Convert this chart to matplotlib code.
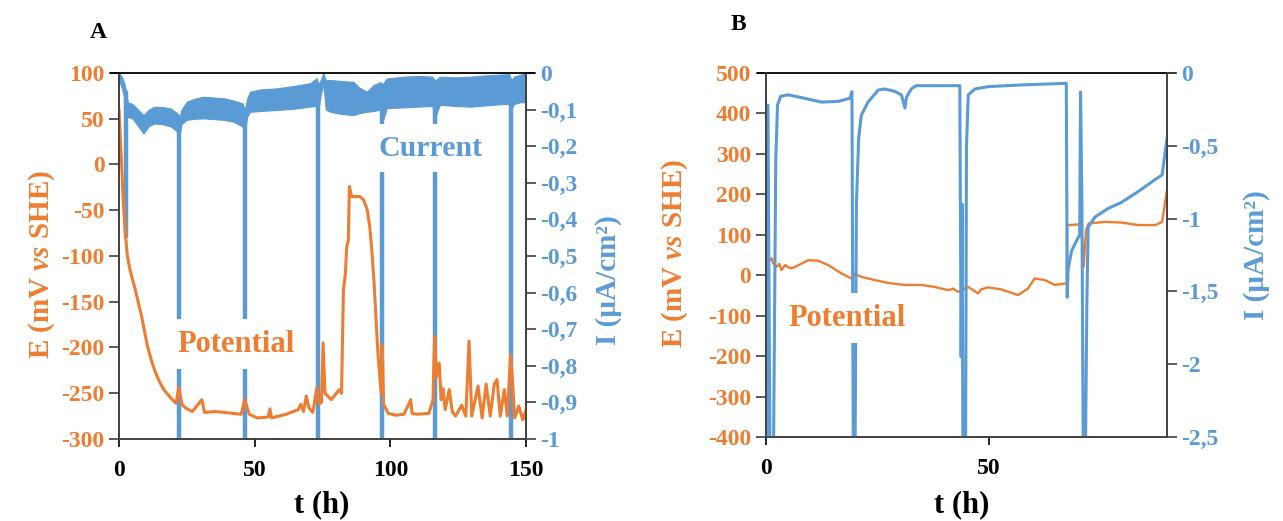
import matplotlib
matplotlib.use("Agg")
import matplotlib.pyplot as plt
from matplotlib.ticker import FuncFormatter, MultipleLocator

plt.rcParams['font.family'] = ['Liberation Serif', 'DejaVu Serif']
plt.rcParams['font.weight'] = 'bold'
plt.rcParams['axes.unicode_minus'] = False
plt.rcParams['mathtext.fontset'] = 'custom'
plt.rcParams['mathtext.rm'] = 'Liberation Serif:bold'
plt.rcParams['mathtext.it'] = 'Liberation Serif:bold:italic'

ORANGE = '#ED7D31'
BLUE = '#5B9BD5'

# ---------------- panel A : potential (mV) ----------------
a_pot_t = [0, 0.3, 0.7, 1, 1.5, 2.3, 3.0, 3.8, 5, 6, 8.3, 10.5, 12, 13.5, 15, 16.5, 19, 21, 22,
           23.3, 25, 27, 30.5, 31.5, 35, 39, 42, 45, 46.3, 48, 51, 55, 55.6, 56.2, 61.6, 66,
           67, 68, 69, 70, 71.4, 72.9, 73.6, 74.6, 75.2, 75.9, 78.2, 81.2, 82, 82.7, 83.4,
           83.9, 84.5, 84.9, 85.7, 88.7, 90.2, 91.5, 92.4, 93.2, 94, 95.4, 96.6, 97, 97.5,
           99.2, 102, 105, 107.5, 108, 109.7, 114.2, 115.7, 116.3, 117, 118, 118.7, 119.4,
           120.2, 121.7, 122.8, 124, 126.3, 127.8, 129, 130, 132.3, 133.8, 135.3, 136.8, 138.3,
           139.3, 140.5, 142, 143.1, 144.3, 145, 145.8, 147.3, 148.8, 150]
a_pot_v = [59, 40, 15, -3, -39, -75, -98, -112, -126, -137, -166, -199, -215, -228, -238, -246,
           -255, -261, -244, -263, -267, -270, -257, -271, -270, -271, -272, -273, -257, -273,
           -277, -276, -267, -277, -273, -268, -262, -270, -253, -266, -271, -244, -262, -260,
           -195, -250, -257, -246, -250, -137, -120, -90, -83, -24, -35, -35, -39, -50, -68,
           -95, -130, -206, -250, -197, -262, -272, -274, -273, -257, -272, -273, -272, -257,
           -188, -232, -217, -257, -245, -268, -246, -270, -275, -263, -275, -193, -275, -242,
           -277, -240, -275, -240, -235, -275, -246, -275, -208, -235, -277, -264, -279, -268]

# ---------------- panel A : current band (uA/cm2) ----------------
a_band_t = [0, 1, 2, 2.6, 3.2, 5, 7, 9, 11, 13, 16, 19, 21.5, 22.3, 23, 25, 28, 31, 35, 38.5,
            42, 45.5, 46.4, 47.2, 48.3, 52, 58, 64, 70.4, 72.8, 73.5, 74.3, 75.3, 76.2, 77.8,
            82, 86.4, 88.5, 91.3, 93.8, 96.2, 97.2, 98.7, 105, 110, 115.5, 116.3, 117.5, 118.3,
            124, 129.4, 136, 141, 143.8, 144.6, 145.5, 147.8, 150]
a_band_hi = [0, -0.01, -0.03, -0.05, -0.08, -0.085, -0.1, -0.115, -0.1, -0.092, -0.093, -0.097,
             -0.11, -0.12, -0.1, -0.078, -0.07, -0.065, -0.067, -0.069, -0.075, -0.083, -0.1,
             -0.07, -0.051, -0.045, -0.042, -0.036, -0.028, -0.014, -0.03, -0.02, 0.0, -0.02,
             -0.019, -0.022, -0.024, -0.04, -0.051, -0.033, -0.025, -0.03, -0.015, -0.01,
             -0.008, -0.01, -0.02, -0.015, -0.01, -0.012, -0.01, -0.006, -0.004, -0.003,
             -0.02, -0.01, -0.005, 0.0]
a_band_lo = [-0.02, -0.04, -0.07, -0.1, -0.12, -0.125, -0.145, -0.165, -0.145, -0.138, -0.14,
             -0.146, -0.16, -0.17, -0.14, -0.128, -0.125, -0.124, -0.126, -0.128, -0.133,
             -0.146, -0.16, -0.12, -0.106, -0.104, -0.101, -0.098, -0.092, -0.09, -0.1, -0.06,
             -0.03, -0.1, -0.106, -0.112, -0.115, -0.11, -0.106, -0.104, -0.1, -0.13, -0.096,
             -0.094, -0.092, -0.09, -0.128, -0.1, -0.087, -0.09, -0.092, -0.088, -0.085,
             -0.085, -0.1, -0.085, -0.08, -0.08]
a_spike_t = [2.6, 22.1, 46.3, 73.3, 97.0, 116.5, 144.3]
a_spike_top = [-0.05, -0.12, -0.1, -0.03, -0.03, -0.02, -0.02]
a_spike_bot = [-0.45, -1.05, -1.05, -1.05, -1.05, -1.05, -1.05]

# ---------------- panel B : potential (mV) ----------------
b_pot_t = [0.3, 1.27, 1.64, 2.4, 3.0, 3.5, 4.3, 5.0, 5.8, 7.3, 9.5, 11.7, 14.0, 17.0, 19.2, 19.9,
           21.4, 24.4, 27.4, 31.1, 34.9, 37.9, 40.9, 42.0, 43.1, 45.4, 47.6, 48.3, 49.8, 52.8,
           56.6, 58.8, 60.3, 62.6, 64.8, 67.5, 67.6, 67.9, 70.6, 71.0, 71.3, 71.8, 72.4, 76.2,
           79.9, 83.6, 87.4, 88.9, 90.0]
b_pot_v = [30, 42, 29, 21, 28, 13, 25, 20, 17, 25, 37, 36, 25, 4, -8, 4,
           -4, -12, -19, -24, -24, -29, -37, -33, -41, -29, -45, -35, -30, -35,
           -49, -33, -8, -12, -24, -20, 124, 124, 126, 80, 21, 110, 128, 132,
           130, 124, 124, 132, 211]

# ---------------- panel B : current (uA/cm2) ----------------
b_cur_t = [0, 0.15, 0.45, 0.9, 1.7, 2.2, 2.6, 3.3, 5, 8.7, 12.5, 16.2, 18.8, 19.3, 19.6, 20.0,
           20.3, 20.8, 21.4, 22.9, 25.2, 26.7, 28.9, 30.4, 31.2, 31.5, 32.6, 33.7, 43.5, 43.8,
           44.0, 44.2, 44.8, 45.0, 45.4, 46.9, 49.8, 57.3, 67.4, 67.6, 67.8, 68.6, 70.4, 70.6,
           70.9, 71.2, 71.7, 72.0, 72.3, 73.8, 76.8, 79.7, 83.5, 87.2, 88.9, 89.8, 90.0]
b_cur_v = [-1.45, -2.6, -0.22, -2.6, -2.6, -0.6, -0.22, -0.16, -0.15, -0.174, -0.2, -0.195,
           -0.174, -0.128, -2.6, -2.6, -0.9, -0.45, -0.29, -0.2, -0.117, -0.11, -0.126, -0.151,
           -0.24, -0.17, -0.11, -0.087, -0.087, -1.95, -0.9, -2.6, -2.6, -0.5, -0.15, -0.11,
           -0.094, -0.082, -0.071, -1.54, -1.35, -1.22, -1.11, -0.13, -0.9, -2.6, -2.6, -1.6,
           -1.06, -0.99, -0.93, -0.89, -0.815, -0.735, -0.70, -0.495, -0.45]


def comma(v, pos):
    s = ('%g' % round(v, 2)).replace('.', ',')
    return '0' if s in ('-0', '0') else s


def style_axes(ax, ax2):
    for a in (ax, ax2):
        a.spines['top'].set_visible(False)
        for sp in ('left', 'right', 'bottom'):
            a.spines[sp].set_color('#404040')
            a.spines[sp].set_linewidth(1.2)
    ax.plot([-0.02, 1.02], [1, 1], transform=ax.transAxes, color='black',
            lw=1.3, clip_on=False, zorder=5)
    ax.tick_params(axis='y', colors=ORANGE, labelsize=17, direction='out', length=7, width=1.2)
    ax.tick_params(axis='y', color='#404040')
    ax.tick_params(axis='x', colors='black', labelsize=17, direction='out', length=6,
                   width=1.2, pad=9)
    ax2.tick_params(axis='y', colors=BLUE, labelsize=17, direction='out', length=7, width=1.2)
    ax2.tick_params(axis='y', color='#404040')
    ax2.yaxis.set_major_formatter(FuncFormatter(comma))


fig = plt.figure(figsize=(12.83, 5.21), dpi=100)

# panel A
axA = fig.add_axes([0.0928, 0.1574, 0.3172, 0.7025])
axA2 = axA.twinx()
axA2.fill_between(a_band_t, a_band_hi, a_band_lo, color=BLUE, lw=0.8)
axA2.vlines(a_spike_t, a_spike_top, a_spike_bot, color=BLUE, lw=3.2)
axA.plot(a_pot_t, a_pot_v, color=ORANGE, lw=2.2)
axA.set_zorder(axA2.get_zorder() + 1)
axA.patch.set_visible(False)
axA.set_xlim(0, 150)
axA.set_ylim(-300, 100)
axA.yaxis.set_major_locator(MultipleLocator(50))
axA.xaxis.set_major_locator(MultipleLocator(50))
axA2.set_ylim(-1, 0)
axA2.yaxis.set_major_locator(MultipleLocator(0.1))
style_axes(axA, axA2)

# panel B
axB = fig.add_axes([0.597, 0.1612, 0.3126, 0.6987])
axB2 = axB.twinx()
axB.plot(b_pot_t, b_pot_v, color=ORANGE, lw=1.7)
axB2.plot(b_cur_t, b_cur_v, color=BLUE, lw=2.2)
axB.set_xlim(0, 90)
axB.set_ylim(-400, 500)
axB.yaxis.set_major_locator(MultipleLocator(100))
axB.set_xticks([0, 50])
axB2.set_ylim(-2.5, 0)
axB2.yaxis.set_major_locator(MultipleLocator(0.5))
style_axes(axB, axB2)

W, H = 1283.0, 521.0


def ftext(x, y, s, **kw):
    return fig.text(x / W, 1 - y / H, s, ha='center', va='center', **kw)


ftext(98, 33, 'A', fontsize=17, color='black')
ftext(738, 25, 'B', fontsize=17, color='black')

box = dict(boxstyle='square,pad=0.35', fc='white', ec='none')
ftext(431, 148, 'Current', fontsize=21.5, color=BLUE, bbox=box, zorder=10)
ftext(236, 344, 'Potential', fontsize=22, color=ORANGE, bbox=box, zorder=10)
ftext(847, 318, 'Potential', fontsize=22, color=ORANGE, bbox=box, zorder=10)

ftext(42, 264, r'E (mV $\mathit{vs}$ SHE)', fontsize=21, color=ORANGE, rotation=90)
ftext(608, 280, 'I (µA/cm²)', fontsize=21, color=BLUE, rotation=90)
ftext(322, 505, 't (h)', fontsize=22, color='black')

ftext(675, 253, r'E (mV $\mathit{vs}$ SHE)', fontsize=21, color=ORANGE, rotation=90)
ftext(1257, 255, 'I (µA/cm²)', fontsize=21, color=BLUE, rotation=90)
ftext(962, 505, 't (h)', fontsize=22, color='black')

fig.savefig('out.png', dpi=100)
